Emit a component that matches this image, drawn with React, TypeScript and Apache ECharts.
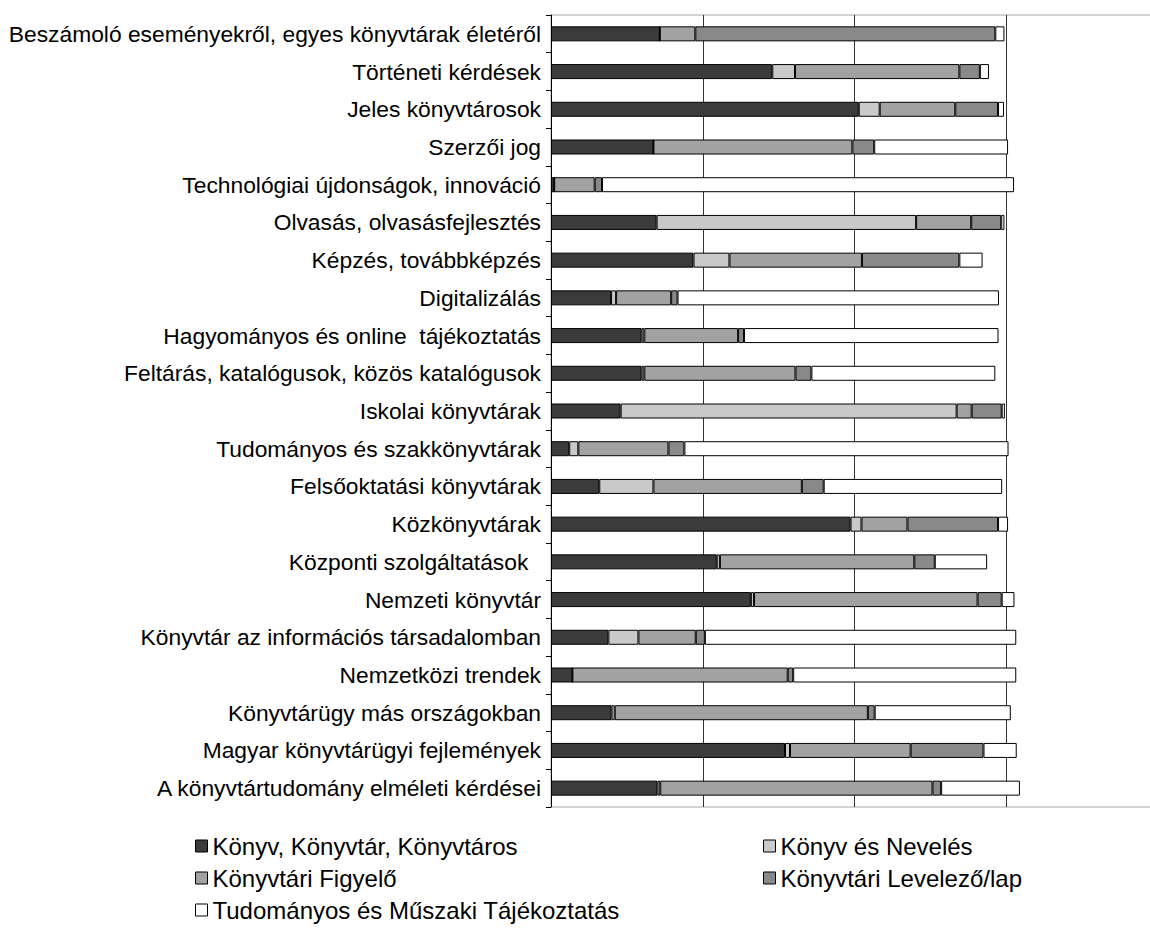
import React, { useEffect, useRef } from "react";
import * as echarts from "echarts";

const categories = [
  "Beszámoló eseményekről, egyes könyvtárak életéről",
  "Történeti kérdések",
  "Jeles könyvtárosok",
  "Szerzői jog",
  "Technológiai újdonságok, innováció",
  "Olvasás, olvasásfejlesztés",
  "Képzés, továbbképzés",
  "Digitalizálás",
  "Hagyományos és online  tájékoztatás",
  "Feltárás, katalógusok, közös katalógusok",
  "Iskolai könyvtárak",
  "Tudományos és szakkönyvtárak",
  "Felsőoktatási könyvtárak",
  "Közkönyvtárak",
  "Központi szolgáltatások  ",
  "Nemzeti könyvtár",
  "Könyvtár az információs társadalomban",
  "Nemzetközi trendek",
  "Könyvtárügy más országokban",
  "Magyar könyvtárügyi fejlemények",
  "A könyvtártudomány elméleti kérdései",
];

const seriesNames = [
  "Könyv, Könyvtár, Könyvtáros",
  "Könyv és Nevelés",
  "Könyvtári Figyelő",
  "Könyvtári Levelező/lap",
  "Tudományos és Műszaki Tájékoztatás",
];

const konyvKonyvtar = [23.9, 48.6, 67.6, 22.5, 0.7, 23.2, 31.3, 13.2, 19.9, 19.9, 15.3, 4.0, 10.6, 65.8, 36.4, 43.9, 12.6, 4.7, 13.3, 51.4, 23.4];
const konyvNeveles = [0, 5.0, 4.6, 0, 0, 57.0, 7.9, 1.1, 0.6, 0.6, 73.8, 2.0, 11.9, 2.4, 0.7, 0.7, 6.6, 0, 0.7, 1.1, 0.6];
const figyelo = [7.8, 36.1, 16.6, 43.7, 8.9, 12.1, 29.1, 12.1, 20.6, 33.2, 3.3, 19.8, 32.6, 10.1, 42.7, 49.1, 12.6, 47.3, 55.6, 26.5, 59.8];
const levelezo = [65.9, 4.5, 9.4, 4.8, 1.6, 6.6, 21.4, 1.4, 1.3, 3.5, 6.6, 3.5, 4.8, 19.9, 4.5, 5.3, 2.0, 1.2, 1.5, 16.0, 1.9];
const tmt = [2.0, 2.0, 1.3, 29.4, 90.5, 0.7, 5.1, 70.6, 55.9, 40.4, 0.7, 71.2, 39.2, 2.2, 11.5, 2.8, 68.4, 49.0, 29.9, 7.3, 17.3];

const seriesValues = [konyvKonyvtar, konyvNeveles, figyelo, levelezo, tmt];
const colors = ["#3b3b3b", "#c9c9c9", "#a2a2a2", "#898989", "#ffffff"];

const FONT = "'Liberation Sans', Arial, sans-serif";

export default function App() {
  const ref = useRef<HTMLDivElement>(null);

  useEffect(() => {
    if (!ref.current) return;
    const chart = echarts.init(ref.current, undefined, { renderer: "svg" });
    const legendCommon = {
      orient: "vertical",
      icon: "rect",
      itemWidth: 12,
      itemHeight: 12,
      itemGap: 8,
      textStyle: { fontSize: 24, color: "#000", fontFamily: FONT, lineHeight: 24 },
      itemStyle: { borderColor: "#000", borderWidth: 1 },
    };
    chart.setOption({
      animation: false,
      backgroundColor: "#fff",
      textStyle: { fontFamily: FONT },
      grid: {
        left: 551,
        top: 15,
        height: 792,
        width: 607,
        outerBoundsMode: "none",
        containLabel: false,
        show: true,
        borderColor: "#a8a8a8",
        borderWidth: 1,
        backgroundColor: "transparent",
      },
      legend: [
        { ...legendCommon, left: 190, top: 829, data: [seriesNames[0], seriesNames[2], seriesNames[4]] },
        { ...legendCommon, left: 758, top: 829, data: [seriesNames[1], seriesNames[3]] },
      ],
      xAxis: {
        type: "value",
        min: 0,
        max: 400 / 3,
        interval: 100 / 3,
        axisLabel: { show: false },
        axisLine: { show: false },
        axisTick: { show: false },
        splitLine: { show: true, lineStyle: { color: "#333", width: 1 } },
      },
      yAxis: {
        type: "category",
        inverse: true,
        data: categories,
        axisLine: { show: true, lineStyle: { color: "#000", width: 1 } },
        axisTick: { show: true, length: 5, inside: false, lineStyle: { color: "#000", width: 1 } },
        axisLabel: { fontSize: 22.8, color: "#000", fontFamily: FONT, margin: 10 },
        splitLine: { show: false },
      },
      series: seriesValues.map((vals, i) => ({
        name: seriesNames[i],
        type: "bar",
        stack: "total",
        barWidth: 15,
        data: vals,
        itemStyle: { color: colors[i], borderColor: "#000", borderWidth: 1 },
      })),
    });
    return () => chart.dispose();
  }, []);

  return (
    <div
      style={{ position: "fixed", left: 0, top: 0, width: 1150, height: 932, overflow: "hidden" }}
    >
      <div ref={ref} style={{ width: 1170, height: 932 }} />
    </div>
  );
}
